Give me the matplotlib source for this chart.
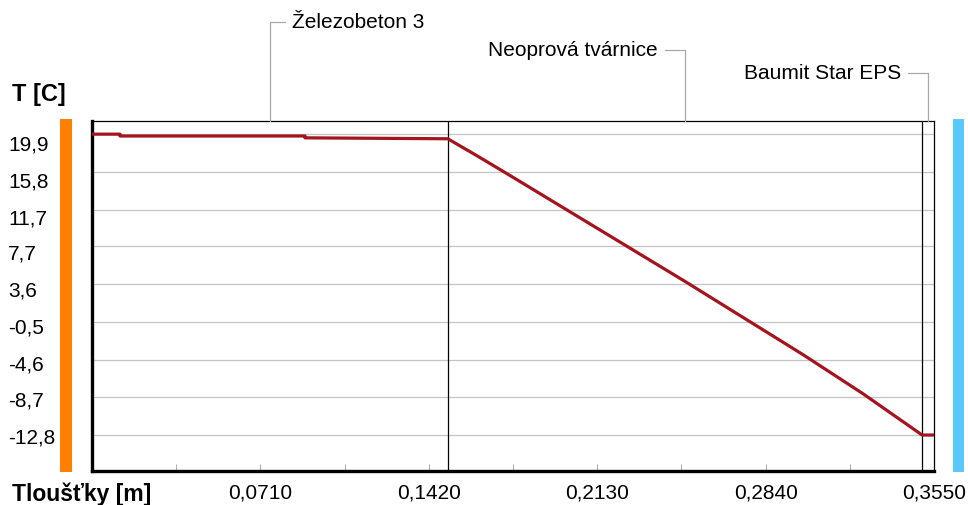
import matplotlib.pyplot as plt
import matplotlib.transforms as mtransforms
from matplotlib.patches import Rectangle
import numpy as np

# layer boundaries (m) and names
layer_names = ["Železobeton 3", "Neoprová tvárnice", "Baumit Star EPS"]
layer_bounds = [0.0, 0.150, 0.350, 0.355]

# temperature profile through the wall
thickness = [0.0, 0.0118, 0.0118, 0.0898, 0.0898, 0.150,
             0.162, 0.175, 0.200, 0.225, 0.250, 0.275, 0.300, 0.325, 0.350, 0.355]
temperature = [19.9, 19.9, 19.7, 19.7, 19.5, 19.4,
               17.6, 15.6, 11.7, 7.8, 3.9, -0.1, -4.1, -8.3, -12.8, -12.8]

# axis ticks
y_ticks = [19.9, 15.8, 11.7, 7.7, 3.6, -0.5, -4.6, -8.7, -12.8]
y_labels = ["19,9", "15,8", "11,7", "7,7", "3,6", "-0,5", "-4,6", "-8,7", "-12,8"]
x_ticks = [0.0355 * k for k in range(11)]
x_labels = ["", "", "0,0710", "", "0,1420", "", "0,2130", "", "0,2840", "", "0,3550"]

W, H = 968, 506
FONT = ["Liberation Sans", "DejaVu Sans"]
FS = 15
RED = "#a3141f"

fig = plt.figure(figsize=(W / 100, H / 100), dpi=100)
ax = fig.add_axes([92 / W, (H - 472) / H, (934 - 92) / W, (472 - 122) / H])

ax.set_xlim(0, 0.355)
ax.set_ylim(-16.71, 21.33)

# grid
for t in y_ticks:
    ax.axhline(t, color="#c4c4c4", lw=0.9, zorder=1)

# layer boundaries
for b in layer_bounds[1:-1]:
    ax.axvline(b, color="black", lw=0.9, zorder=2)

ax.plot(thickness, temperature, color=RED, lw=2.3, zorder=3, solid_joinstyle="round")

# spines
for s in ["left", "bottom"]:
    ax.spines[s].set_linewidth(2.4)
for s in ["top", "right"]:
    ax.spines[s].set_linewidth(0.9)

ax.set_yticks([])
ax.set_xticks(x_ticks)
ax.set_xticklabels(x_labels, fontsize=FS, family=FONT)
ax.tick_params(axis="x", direction="in", length=5, width=0.8, color="#b0b0b0", pad=8)

# y labels, left aligned at the figure edge
blend = mtransforms.blended_transform_factory(fig.transFigure, ax.transData)
n = len(y_ticks)
for i, (t, lab) in enumerate(zip(y_ticks, y_labels)):
    off = (10 - 8 * i / (n - 1)) / 100
    tr = blend + mtransforms.ScaledTranslation(0, -off, fig.dpi_scale_trans)
    ax.text(8 / W, t, lab, transform=tr, ha="left", va="center",
            fontsize=FS, family=FONT, clip_on=False)

# axis titles
fig.text(12 / W, 1 - 95 / H, "T [C]", ha="left", va="center",
         fontsize=17, fontweight="bold", family=FONT)
fig.text(12 / W, 1 - 494 / H, "Tloušťky [m]", ha="left", va="center",
         fontsize=16.5, fontweight="bold", family=FONT)

# interior / exterior bars
fig.add_artist(Rectangle((60 / W, (H - 473) / H), 12 / W, 353 / H,
                         transform=fig.transFigure, color="#ff8000", lw=0))
fig.add_artist(Rectangle((953 / W, (H - 473) / H), 11 / W, 353 / H,
                         transform=fig.transFigure, color="#5ac8fa", lw=0))

# layer labels with brackets
top = mtransforms.blended_transform_factory(ax.transData, ax.transAxes)
label_pos = [(22, 99, "left", 0.0), (-27, 71, "right", 1.0), (-27, 48, "right", 1.0)]
for name, (dx, dy, ha, rx), a, b in zip(layer_names, label_pos,
                                        layer_bounds[:-1], layer_bounds[1:]):
    ax.annotate(name, xy=((a + b) / 2, 1), xycoords=top,
                xytext=(dx, dy), textcoords="offset pixels",
                ha=ha, va="center", fontsize=FS, family=FONT,
                annotation_clip=False,
                arrowprops=dict(arrowstyle="-", color="#a8a8a8", lw=0.9,
                                connectionstyle="angle,angleA=0,angleB=90,rad=0",
                                relpos=(rx, 0.5), shrinkA=3, shrinkB=0))

fig.savefig("out.png", dpi=100)
